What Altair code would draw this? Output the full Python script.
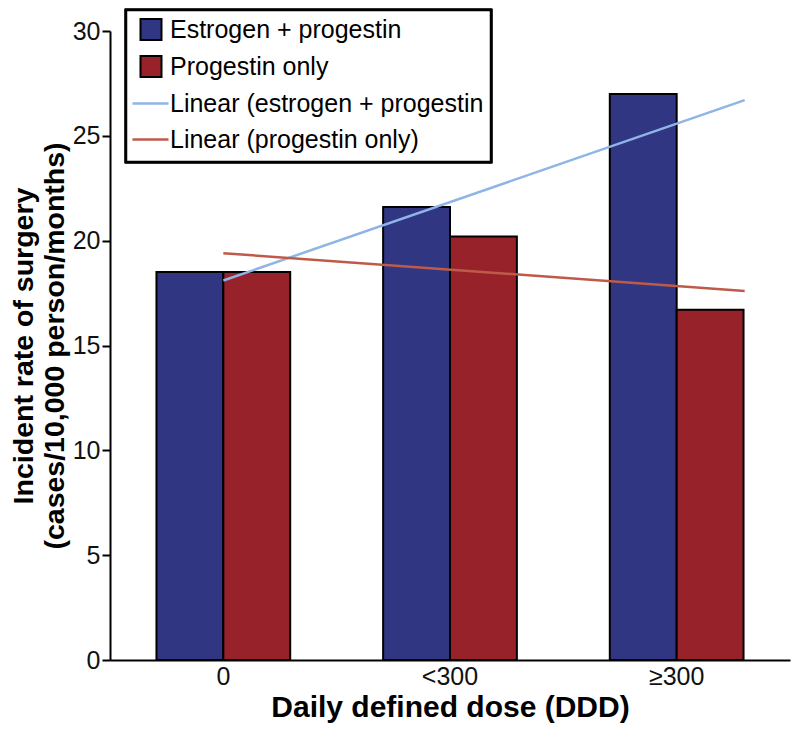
import altair as alt
import pandas as pd

doses = ["0", "<300", "\u2265300"]
series_names = ["Estrogen + progestin", "Progestin only"]
estrogen_progestin = [18.5, 21.6, 27.0]
progestin_only = [18.5, 20.2, 16.7]

trend_names = ["Linear (estrogen + progestin", "Linear (progestin only)"]
trend_x = [0.0, 2.3]
trend_ep = [18.1, 26.7]
trend_po = [19.4, 17.6]

bar_colors = ["#303681", "#98222A"]
trend_colors = ["#8FB4E6", "#BE5B48"]

bars = pd.DataFrame({
    "dose": doses * 2,
    "series": [series_names[0]] * 3 + [series_names[1]] * 3,
    "value": estrogen_progestin + progestin_only,
})
trends = pd.DataFrame({
    "pos": trend_x * 2,
    "trend": [trend_names[0]] * 2 + [trend_names[1]] * 2,
    "value": trend_ep + trend_po,
})

FONT = "Liberation Sans"

y_enc = alt.Y("value:Q", scale=alt.Scale(domain=[0, 30], nice=False),
              axis=alt.Axis(values=[0, 5, 10, 15, 20, 25, 30],
                            title=["Incident rate of surgery", "(cases/10,000 person/months)"],
                            titleFont=FONT, titleFontSize=28.5, titleFontWeight="bold",
                            titleColor="black", titlePadding=3, titleLineHeight=31,
                            labelFont=FONT, labelFontSize=25, labelColor="#111",
                            labelPadding=2, tickSize=8, tickWidth=2, tickColor="black",
                            domainColor="black", domainWidth=2, grid=False))

bar_layer = alt.Chart(bars).mark_bar(stroke="black", strokeWidth=2).encode(
    x=alt.X("dose:N", sort=doses,
            scale=alt.Scale(paddingInner=0.41, paddingOuter=0.205),
            axis=alt.Axis(title="Daily defined dose (DDD)", labelAngle=0,
                          titleFont=FONT, titleFontSize=30, titleFontWeight="bold",
                          titleColor="black", titlePadding=3,
                          labelFont=FONT, labelFontSize=25, labelColor="#111",
                          labelPadding=4, ticks=False,
                          domainColor="black", domainWidth=2)),
    xOffset=alt.XOffset("series:N", sort=series_names,
                        scale=alt.Scale(paddingInner=0, paddingOuter=0)),
    y=y_enc,
    fill=alt.Fill("series:N", sort=series_names,
                  scale=alt.Scale(domain=series_names, range=bar_colors),
                  legend=alt.Legend(title=None, orient="none", legendX=28.5, legendY=-14,
                                    padding=0, symbolType="square", symbolSize=441,
                                    symbolStrokeColor="black", symbolStrokeWidth=2,
                                    symbolOpacity=1,
                                    labelFont=FONT, labelFontSize=25, labelColor="black",
                                    labelLimit=500, labelOffset=6.5, rowPadding=8)),
)

line_layer = alt.Chart(trends).mark_line(strokeWidth=2.5).encode(
    x=alt.X("pos:Q", scale=alt.Scale(domain=[-0.5, 2.5], nice=False, zero=False), axis=None),
    y=alt.Y("value:Q"),
    stroke=alt.Stroke("trend:N", sort=trend_names,
                      scale=alt.Scale(domain=trend_names, range=trend_colors),
                      legend=alt.Legend(title=None, orient="none", legendX=21, legendY=53,
                                        padding=0, symbolType="stroke", symbolSize=1300,
                                        symbolStrokeWidth=2.5,
                                        labelFont=FONT, labelFontSize=25, labelColor="black",
                                        labelLimit=500, labelOffset=0, rowPadding=3)),
)

legend_box = alt.Chart(bars).mark_rect(fill="white", stroke="black", strokeWidth=2.5).encode(
    x=alt.value(16), x2=alt.value(381), y=alt.value(-21), y2=alt.value(131),
)

chart = alt.layer(bar_layer, line_layer, legend_box).resolve_scale(x="independent").properties(
    width=680, height=629,
    autosize=alt.AutoSizeParams(type="none"),
    padding={"left": 102, "top": 23, "right": 2, "bottom": 70},
).configure_view(stroke=None)

chart.save("out.html", embed_options={"renderer": "svg", "actions": False})
